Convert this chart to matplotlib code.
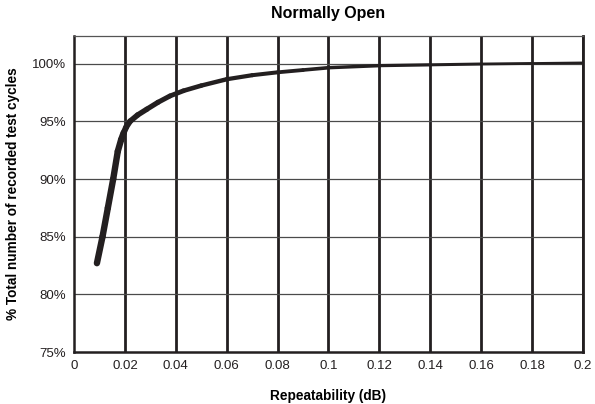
import matplotlib.pyplot as plt
import numpy as np
from matplotlib.collections import LineCollection

# Repeatability (dB) vs cumulative % of recorded test cycles
repeat_db = [0.009, 0.0112, 0.0133, 0.0154, 0.0172, 0.0185, 0.0195, 0.0205,
             0.022, 0.025, 0.0286, 0.033, 0.0377, 0.043, 0.05, 0.06, 0.07,
             0.08, 0.09, 0.1, 0.12, 0.14, 0.16, 0.18, 0.2]
pct_cycles = [82.7, 85.0, 87.5, 90.0, 92.4, 93.4, 94.0, 94.5,
              95.0, 95.55, 96.05, 96.65, 97.2, 97.65, 98.1, 98.65, 99.0,
              99.25, 99.45, 99.65, 99.83, 99.9, 99.97, 100.02, 100.07]

x_ticks = [0, 0.02, 0.04, 0.06, 0.08, 0.1, 0.12, 0.14, 0.16, 0.18, 0.2]
x_labels = ['0', '0.02', '0.04', '0.06', '0.08', '0.1', '0.12', '0.14', '0.16', '0.18', '0.2']
y_ticks = [75, 80, 85, 90, 95, 100]
y_labels = ['75%', '80%', '85%', '90%', '95%', '100%']

plt.rcParams['font.family'] = ['Liberation Sans', 'DejaVu Sans']
ink = '#231f20'

fig = plt.figure(figsize=(5.95, 4.04), dpi=100)
ax = fig.add_axes([0.1244, 0.1287, 0.8554, 0.7822])
ax.set_xlim(0, 0.2)
ax.set_ylim(75, 102.4)

# grid: heavy verticals, thin horizontals
for xv in x_ticks[1:]:
    ax.axvline(xv, color=ink, lw=2.0, zorder=1)
for yv in y_ticks[1:]:
    ax.axhline(yv, color='#4a4a4a', lw=0.9, zorder=1)

# curve that tapers from thick to thin
pts = np.column_stack([repeat_db, pct_cycles])
segs = np.stack([pts[:-1], pts[1:]], axis=1)
n = len(segs)
widths = np.concatenate([np.full(6, 4.6), np.linspace(4.3, 1.9, n - 6)])
lc = LineCollection(segs, colors=ink, linewidths=widths,
                    capstyle='round', joinstyle='round', zorder=3)
ax.add_collection(lc)

ax.set_xticks(x_ticks)
ax.set_xticklabels(x_labels)
ax.set_yticks(y_ticks)
ax.set_yticklabels(y_labels)
ax.tick_params(length=0, labelsize=9.5, colors='#231f20', pad=6)

for side in ['left', 'bottom']:
    ax.spines[side].set_color(ink)
    ax.spines[side].set_linewidth(1.8)
ax.spines['top'].set_color('#555555')
ax.spines['top'].set_linewidth(0.9)
ax.spines['right'].set_color(ink)
ax.spines['right'].set_linewidth(2.0)

ax.set_xlabel('Repeatability (dB)', fontsize=9.8, fontweight='bold', labelpad=12)
ax.set_ylabel('% Total number of recorded test cycles', fontsize=9.8,
              fontweight='bold', labelpad=8)
ax.set_title('Normally Open', fontsize=11.5, fontweight='bold', pad=13)

fig.savefig('out.png', dpi=100)
